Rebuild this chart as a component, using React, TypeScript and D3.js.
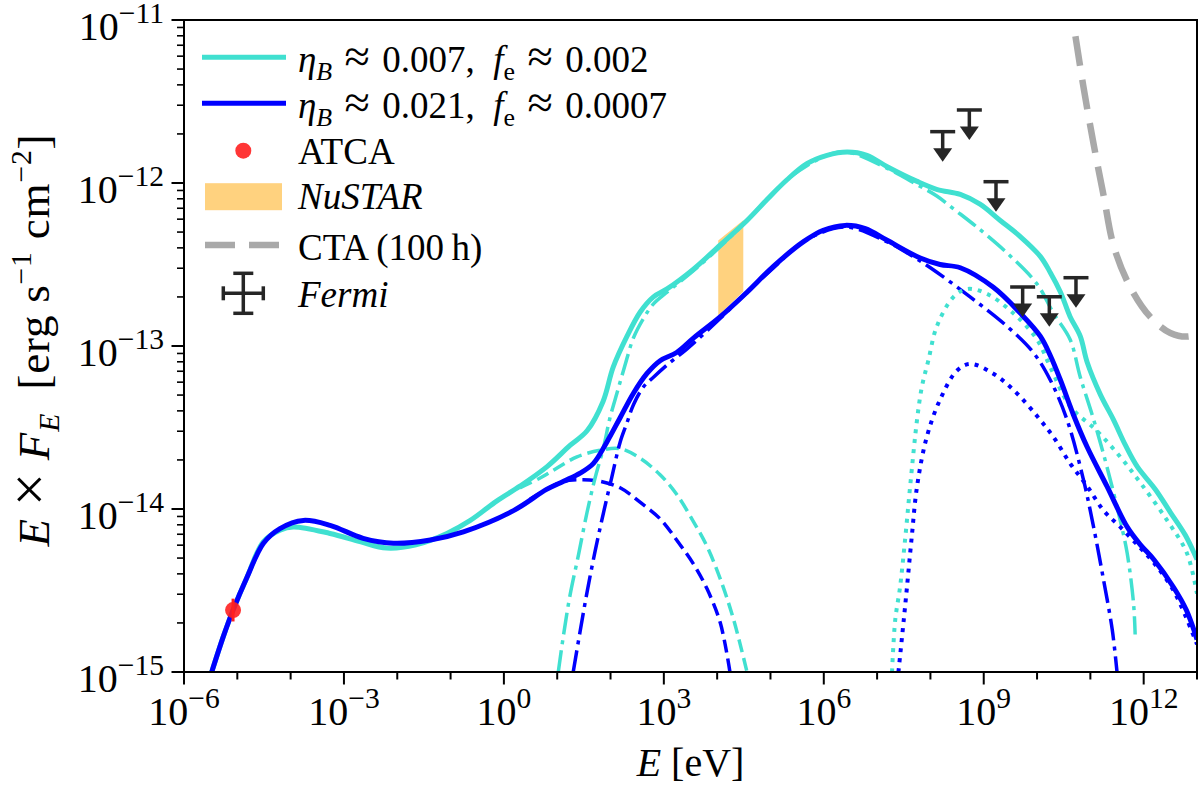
import { useRef, useEffect } from 'react';
import * as d3 from 'd3';

// all values are [log10(E / eV), log10(E F_E / erg s^-1 cm^-2)]
const cyanTotal: [number, number][] = [
  [-5.48, -15.0], [-5.26, -14.78], [-5.08, -14.62], [-4.82, -14.42], [-4.51, -14.2], [-4.2, -14.13],
  [-3.95, -14.11], [-3.26, -14.15], [-2.7, -14.2], [-2.2, -14.24], [-1.65, -14.22], [-1.07, -14.15],
  [-0.63, -14.07], [-0.13, -13.95], [0.3, -13.86], [0.81, -13.74], [1.24, -13.61], [1.56, -13.52],
  [1.86, -13.34], [2.05, -13.13], [2.31, -12.94], [2.56, -12.79], [2.8, -12.7], [3.06, -12.65],
  [3.55, -12.53], [4.06, -12.38], [4.56, -12.23], [4.94, -12.1], [5.31, -11.98], [5.69, -11.88],
  [6.06, -11.83], [6.44, -11.81], [6.81, -11.83], [7.19, -11.9], [7.75, -11.99], [8.13, -12.04],
  [8.56, -12.07], [8.93, -12.13], [9.31, -12.23], [9.69, -12.33], [10.06, -12.45], [10.25, -12.55],
  [10.44, -12.67], [10.62, -12.82], [10.81, -12.94], [10.94, -13.1], [11.19, -13.3], [11.43, -13.45],
  [11.66, -13.61], [11.88, -13.74], [12.22, -13.88], [12.5, -14.02], [12.78, -14.16], [13.0, -14.31],
];

const blueTotal: [number, number][] = [
  [-5.48, -15.0], [-5.26, -14.78], [-5.08, -14.62], [-4.82, -14.42], [-4.51, -14.21], [-4.2, -14.12],
  [-3.76, -14.07], [-3.26, -14.1], [-2.64, -14.18], [-2.07, -14.21], [-1.38, -14.19], [-0.76, -14.14],
  [0.18, -14.01], [0.8, -13.88], [1.12, -13.83], [1.43, -13.78], [1.68, -13.72], [1.93, -13.59],
  [2.18, -13.44], [2.43, -13.29], [2.68, -13.17], [2.93, -13.09], [3.24, -13.04], [3.56, -12.95],
  [4.06, -12.82], [4.56, -12.67], [5.06, -12.51], [5.62, -12.36], [5.99, -12.29], [6.4, -12.26],
  [6.78, -12.28], [7.18, -12.35], [7.81, -12.46], [8.18, -12.5], [8.56, -12.52], [9.18, -12.64],
  [9.69, -12.8], [10.06, -12.94], [10.25, -13.06], [10.44, -13.21], [10.68, -13.42], [10.94, -13.62],
  [11.31, -13.86], [11.69, -14.11], [11.94, -14.22], [12.19, -14.31], [12.56, -14.48], [12.8, -14.62],
  [13.0, -14.8],
];

const cyanDashed: [number, number][] = [
  [0.3, -13.87], [0.68, -13.81], [0.99, -13.75], [1.37, -13.68], [1.8, -13.64], [2.18, -13.63],
  [2.56, -13.69], [2.93, -13.79], [3.24, -13.91], [3.56, -14.08], [3.81, -14.23], [4.06, -14.43],
  [4.31, -14.68], [4.56, -15.0],
];

const blueDashed: [number, number][] = [
  [0.49, -13.94], [0.8, -13.88], [1.12, -13.83], [1.49, -13.82], [1.8, -13.83], [2.18, -13.87],
  [2.56, -13.96], [2.93, -14.06], [3.24, -14.19], [3.56, -14.34], [3.81, -14.49], [4.06, -14.7],
  [4.24, -15.0],
];

const cyanDashDot: [number, number][] = [
  [1.02, -15.0], [1.12, -14.77], [1.24, -14.53], [1.4, -14.28], [1.56, -14.02], [1.71, -13.81],
  [1.87, -13.62], [1.99, -13.44], [2.12, -13.29], [2.27, -13.12], [2.43, -12.95], [2.62, -12.83],
  [2.81, -12.74], [3.06, -12.67], [3.55, -12.54], [4.06, -12.39], [4.56, -12.23], [5.31, -11.98],
  [6.06, -11.83], [6.44, -11.81], [7.19, -11.91], [7.75, -12.01], [8.12, -12.08], [8.48, -12.17],
  [8.87, -12.27], [9.44, -12.43], [10.0, -12.62], [10.31, -12.8], [10.62, -12.96], [10.81, -13.19],
  [11.06, -13.45], [11.31, -13.74], [11.56, -14.07], [11.69, -14.27], [11.81, -14.58], [11.84, -14.77],
];

const blueDashDot: [number, number][] = [
  [1.3, -15.0], [1.43, -14.75], [1.56, -14.51], [1.71, -14.26], [1.87, -14.02], [2.02, -13.81],
  [2.18, -13.59], [2.31, -13.47], [2.43, -13.36], [2.62, -13.25], [2.81, -13.19], [3.12, -13.1],
  [3.43, -13.02], [4.06, -12.83], [4.56, -12.67], [5.06, -12.52], [5.62, -12.36], [6.4, -12.27],
  [7.18, -12.36], [7.62, -12.44], [8.0, -12.52], [8.75, -12.7], [9.44, -12.88], [9.93, -13.04],
  [10.25, -13.21], [10.56, -13.45], [10.87, -13.82], [11.06, -14.11], [11.25, -14.44], [11.41, -14.74],
  [11.5, -15.0],
];

const cyanDotted: [number, number][] = [
  [7.28, -15.0], [7.34, -14.68], [7.43, -14.48], [7.53, -14.17], [7.62, -13.86], [7.75, -13.45],
  [7.84, -13.25], [7.96, -13.09], [8.12, -12.88], [8.43, -12.7], [8.69, -12.65], [9.06, -12.68],
  [9.56, -12.8], [10.0, -12.96], [10.25, -13.13], [10.62, -13.37], [11.12, -13.52], [11.56, -13.68],
  [11.94, -13.84], [12.44, -14.07], [12.81, -14.27], [13.0, -14.52],
];

const blueDotted: [number, number][] = [
  [7.4, -15.0], [7.5, -14.68], [7.56, -14.48], [7.65, -14.17], [7.75, -13.86], [7.93, -13.56],
  [8.18, -13.33], [8.5, -13.15], [8.75, -13.11], [9.18, -13.17], [9.56, -13.27], [10.0, -13.43],
  [10.31, -13.56], [10.62, -13.72], [10.94, -13.86], [11.25, -14.01], [11.56, -14.11], [11.94, -14.24],
  [12.19, -14.33], [12.56, -14.5], [13.0, -14.83],
];

const ctaSensitivity: [number, number][] = [
  [10.72, -11.1], [10.87, -11.41], [11.06, -11.76], [11.25, -12.08], [11.44, -12.39], [11.75, -12.64],
  [12.12, -12.82], [12.5, -12.92], [12.87, -12.94], [13.0, -12.91],
];

const nustarLogE = [4.02, 4.49];
const nustarLow = [-12.816, -12.666];
const nustarHigh = [-12.353, -12.229];

const atcaLogE = [-5.08];
const atcaLogF = [-14.62];
const atcaErr = [0.07];

const fermiLogE = [8.23, 8.73, 9.23, 9.73, 10.23, 10.73];
const fermiUL = [-11.685, -11.552, -11.992, -12.638, -12.698, -12.581];

const xDecades = d3.range(-6, 14);
const yDecades = d3.range(-15, -10);

const CYAN = '#40e0d0';
const BLUE = '#0000ff';
const DARK = '#262626';
const FONT = '"Liberation Serif", "Times New Roman", serif';

type Part = { t: string; it?: boolean; sub?: boolean; sup?: boolean; sz?: number };

function rich(
  text: d3.Selection<SVGTextElement, unknown, null, undefined>,
  parts: Part[],
  size: number,
  small = 0.7,
  raise = 0.45,
) {
  let shift = 0;
  parts.forEach(p => {
    const target = p.sub ? size * 0.22 : p.sup ? -size * raise : 0;
    text.append('tspan')
      .attr('dy', target - shift)
      .attr('font-size', (p.sub || p.sup ? size * small : size) * (p.sz ?? 1))
      .attr('font-style', p.it ? 'italic' : 'normal')
      .text(p.t);
    shift = target;
  });
}

export default function App() {
  const ref = useRef<SVGSVGElement | null>(null);

  useEffect(() => {
    const width = 1200;
    const height = 800;
    const margin = { top: 20, right: 3, bottom: 128, left: 184 };
    const x = d3.scaleLog().domain([1e-6, 1e13]).range([margin.left, width - margin.right]);
    const y = d3.scaleLog().domain([1e-15, 1e-11]).range([height - margin.bottom, margin.top]);
    const [x0, x1] = x.range();
    const [y0, y1] = y.range();

    const svg = d3.select(ref.current);
    svg.selectAll('*').remove();
    svg.attr('width', width).attr('height', height).attr('viewBox', `0 0 ${width} ${height}`);
    svg.append('rect').attr('width', width).attr('height', height).attr('fill', '#fff');

    svg.append('clipPath').attr('id', 'plot-clip')
      .append('rect').attr('x', x0).attr('y', y1).attr('width', x1 - x0).attr('height', y0 - y1);

    const plot = svg.append('g').attr('clip-path', 'url(#plot-clip)');

    const line = d3.line<[number, number]>()
      .x(d => x(10 ** d[0]))
      .y(d => y(10 ** d[1]))
      .curve(d3.curveCatmullRom.alpha(0.5));

    // NuSTAR band
    const area = d3.area<number>()
      .x((_, i) => x(10 ** nustarLogE[i]))
      .y0((_, i) => y(10 ** nustarLow[i]))
      .y1((_, i) => y(10 ** nustarHigh[i]));
    plot.append('path').attr('d', area(nustarLogE)).attr('fill', 'orange').attr('opacity', 0.5);

    const curves: { data: [number, number][]; color: string; w: number; dash?: string }[] = [
      { data: ctaSensitivity, color: '#a9a9a9', w: 6.5, dash: '30 14' },
      { data: cyanDashed, color: CYAN, w: 3.5, dash: '13 6' },
      { data: blueDashed, color: BLUE, w: 3.5, dash: '13 6' },
      { data: cyanDashDot, color: CYAN, w: 3.5, dash: '22 6 4 6' },
      { data: blueDashDot, color: BLUE, w: 3.5, dash: '22 6 4 6' },
      { data: cyanDotted, color: CYAN, w: 4, dash: '4 6' },
      { data: blueDotted, color: BLUE, w: 4, dash: '4 6' },
      { data: cyanTotal, color: CYAN, w: 5 },
      { data: blueTotal, color: BLUE, w: 5 },
    ];
    curves.forEach(c => {
      plot.append('path')
        .attr('d', line(c.data))
        .attr('fill', 'none')
        .attr('stroke', c.color)
        .attr('stroke-width', c.w)
        .attr('stroke-dasharray', c.dash ?? null)
        .attr('stroke-linejoin', 'round');
    });

    // ATCA point
    atcaLogE.forEach((e, i) => {
      const cx = x(10 ** e);
      plot.append('line')
        .attr('x1', cx).attr('x2', cx)
        .attr('y1', y(10 ** (atcaLogF[i] - atcaErr[i])))
        .attr('y2', y(10 ** (atcaLogF[i] + atcaErr[i])))
        .attr('stroke', '#ff2020').attr('stroke-width', 3);
      plot.append('circle')
        .attr('cx', cx).attr('cy', y(10 ** atcaLogF[i])).attr('r', 8)
        .attr('fill', '#ff2020').attr('opacity', 0.9);
    });

    // Fermi upper limits
    fermiLogE.forEach((e, i) => {
      const cx = x(10 ** e);
      const cy = y(10 ** fermiUL[i]);
      const g = plot.append('g').attr('stroke', DARK).attr('stroke-width', 3.5);
      g.append('line').attr('x1', cx - 12.5).attr('x2', cx + 12.5).attr('y1', cy).attr('y2', cy);
      g.append('line').attr('x1', cx).attr('x2', cx).attr('y1', cy).attr('y2', cy + 18);
      g.append('path')
        .attr('d', `M${cx - 9.5},${cy + 16.5}L${cx + 9.5},${cy + 16.5}L${cx},${cy + 30}Z`)
        .attr('fill', DARK).attr('stroke', 'none');
    });

    // ticks
    const axes = svg.append('g').attr('stroke', '#000').attr('stroke-width', 2);
    xDecades.forEach(d => {
      const major = d % 3 === 0;
      const px = x(10 ** d);
      axes.append('line').attr('x1', px).attr('x2', px).attr('y1', y0).attr('y2', y0 + (major ? 12.5 : 7.5));
      if (major) {
        const t = svg.append('text')
          .attr('x', px).attr('y', 725)
          .attr('text-anchor', 'middle')
          .attr('font-family', FONT)
          .attr('font-size', 40);
        rich(t, [{ t: '10' }, { t: d < 0 ? `\u2212${-d}` : `${d}`, sup: true }], 40, 0.74, 0.43);
      }
    });
    yDecades.forEach(d => {
      const py = y(10 ** d);
      axes.append('line').attr('x1', x0).attr('x2', x0 - 12.5).attr('y1', py).attr('y2', py);
      const t = svg.append('text')
        .attr('x', 164).attr('y', py + 20)
        .attr('text-anchor', 'end')
        .attr('font-family', FONT)
        .attr('font-size', 40);
      rich(t, [{ t: '10' }, { t: `\u2212${-d}`, sup: true }], 40, 0.74, 0.43);
      if (d < -11) {
        d3.range(2, 10).forEach(k => {
          const pm = y(k * 10 ** d);
          axes.append('line').attr('x1', x0).attr('x2', x0 - 7).attr('y1', pm).attr('y2', pm)
            .attr('stroke-width', 1.6);
        });
      }
    });

    svg.append('rect')
      .attr('x', x0).attr('y', y1).attr('width', x1 - x0).attr('height', y0 - y1)
      .attr('fill', 'none').attr('stroke', '#000').attr('stroke-width', 2);

    // axis titles
    const xt = svg.append('text')
      .attr('x', (x0 + x1) / 2).attr('y', 776)
      .attr('text-anchor', 'middle').attr('font-family', FONT).attr('font-size', 40);
    rich(xt, [{ t: 'E', it: true }, { t: ' [eV]' }], 40);

    const yt = svg.append('text')
      .attr('transform', 'translate(49,340) rotate(-90)')
      .attr('text-anchor', 'middle').attr('font-family', FONT).attr('font-size', 45)
      .attr('letter-spacing', 0.8);
    rich(yt, [
      { t: 'E', it: true }, { t: ' ' }, { t: '\u00d7', sz: 1.3 }, { t: ' ' }, { t: 'F', it: true }, { t: 'E', it: true, sub: true },
      { t: '\u2002[erg s' }, { t: '\u22121', sup: true }, { t: ' cm' }, { t: '\u22122', sup: true }, { t: ']' },
    ], 45, 0.66, 0.4);

    // legend
    const lg = svg.append('g').attr('font-family', FONT);
    const rowY = [57.3, 103.3, 150.7, 196.7, 245, 293.3];
    const baseY = [72, 118, 163.5, 208.5, 259.5, 306.5];
    const textX = 298;
    const fs = 37;

    lg.append('line').attr('x1', 202).attr('x2', 286).attr('y1', rowY[0]).attr('y2', rowY[0])
      .attr('stroke', CYAN).attr('stroke-width', 5);
    lg.append('line').attr('x1', 202).attr('x2', 286).attr('y1', rowY[1]).attr('y2', rowY[1])
      .attr('stroke', BLUE).attr('stroke-width', 5);
    lg.append('circle').attr('cx', 243.3).attr('cy', rowY[2]).attr('r', 8).attr('fill', '#ff2020').attr('opacity', 0.9);
    lg.append('rect').attr('x', 205).attr('y', rowY[3] - 13.5).attr('width', 77).attr('height', 27)
      .attr('fill', 'orange').attr('opacity', 0.5);
    lg.append('line').attr('x1', 205).attr('x2', 279).attr('y1', rowY[4]).attr('y2', rowY[4])
      .attr('stroke', '#a9a9a9').attr('stroke-width', 6.5).attr('stroke-dasharray', '30 14');
    const fx = 243.3;
    const fy = rowY[5];
    const fg = lg.append('g').attr('stroke', DARK).attr('stroke-width', 3.5);
    fg.append('line').attr('x1', fx - 20).attr('x2', fx + 20).attr('y1', fy).attr('y2', fy);
    fg.append('line').attr('x1', fx).attr('x2', fx).attr('y1', fy - 20).attr('y2', fy + 20);
    fg.append('line').attr('x1', fx - 20).attr('x2', fx - 20).attr('y1', fy - 7).attr('y2', fy + 7);
    fg.append('line').attr('x1', fx + 20).attr('x2', fx + 20).attr('y1', fy - 7).attr('y2', fy + 7);
    fg.append('line').attr('x1', fx - 10).attr('x2', fx + 10).attr('y1', fy - 20).attr('y2', fy - 20);
    fg.append('line').attr('x1', fx - 10).attr('x2', fx + 10).attr('y1', fy + 20).attr('y2', fy + 20);

    const approx: Part[] = [{ t: ' \u200a' }, { t: '\u2248', sz: 1.25 }, { t: '\u200a ' }];
    const labels: Part[][] = [
      [{ t: '\u03b7', it: true }, { t: 'B', it: true, sub: true }, ...approx, { t: '0.007,\u2002' }, { t: 'f', it: true }, { t: 'e', sub: true }, ...approx, { t: '0.002' }],
      [{ t: '\u03b7', it: true }, { t: 'B', it: true, sub: true }, ...approx, { t: '0.021,\u2002' }, { t: 'f', it: true }, { t: 'e', sub: true }, ...approx, { t: '0.0007' }],
      [{ t: 'ATCA' }],
      [{ t: 'NuSTAR', it: true }],
      [{ t: 'CTA (100\u2009h)' }],
      [{ t: 'Fermi', it: true }],
    ];
    labels.forEach((parts, i) => {
      const t = lg.append('text').attr('x', textX).attr('y', baseY[i]).attr('font-size', fs);
      rich(t, parts, fs);
    });
  }, []);

  return (
    <div style={{ position: 'absolute', left: 0, top: 0, width: 1200, height: 800, background: '#fff' }}>
      <svg ref={ref} />
    </div>
  );
}
